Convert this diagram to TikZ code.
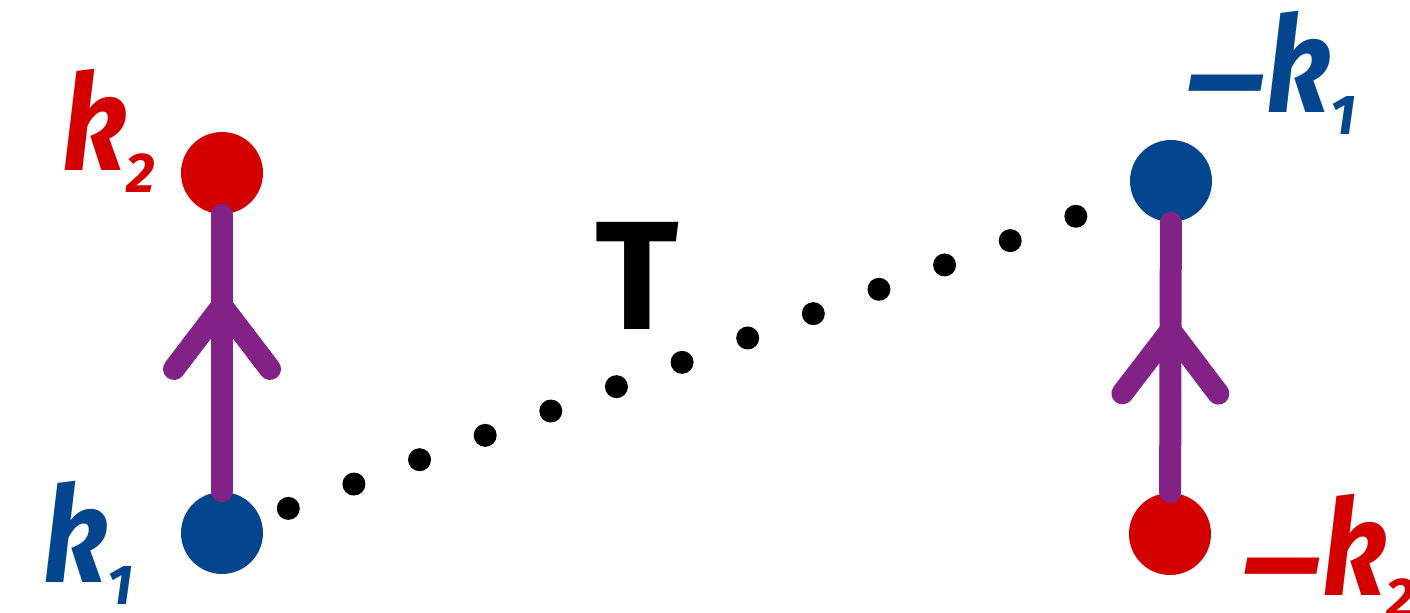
\documentclass[tikz,border=0pt]{standalone}
\usepackage{fontspec}
\setsansfont{Fira Sans}
\usetikzlibrary{decorations.markings}
\definecolor{kred}{RGB}{212,0,0}
\definecolor{kblue}{RGB}{4,70,142}
\definecolor{kpurple}{RGB}{130,34,135}
\newcommand{\kk}{\scalebox{0.85}[1]{k}}
\newcommand{\ksub}[1]{\raisebox{-0.22cm}{\fontsize{16}{16}\selectfont #1}}
\newcommand{\kminus}{\raisebox{-0.15cm}{\scalebox{1.3}[1]{\char"2212}}\kern-0.03cm}
\begin{document}
\begin{tikzpicture}[line cap=round, line join=round,
  dot/.style={circle, fill, inner sep=0pt, minimum size=0.82cm},
  lbl/.style={font=\fontsize{38}{38}\selectfont\sffamily\bfseries\itshape, anchor=base west, inner sep=0pt},
  stem/.style={kpurple, line width=0.22cm, postaction={decorate, decoration={markings,
    mark=at position #1 with {\draw[kpurple, line width=0.22cm] (-0.63cm,0.48cm) -- (0,0) -- (-0.63cm,-0.48cm);}}}},
  dotrow/.style={line width=0.23cm, dash pattern=on 0pt off 0.70cm, dash phase=0.41cm}]
  \useasboundingbox (0,0) rectangle (14.10,6.13);
  % momenta
  \node[dot, kred] (q2) at (2.22,4.40) {};
  \node[dot, kblue] (q1) at (2.22,0.80) {};
  \node[dot, kblue] (mq1) at (11.71,4.32) {};
  \node[dot, kred] (mq2) at (11.70,0.79) {};
  % propagators
  \draw[stem=0.67] (q1) -- (q2);
  \draw[stem=0.60] (mq2) -- (mq1);
  \draw[dotrow] (q1) -- (mq1);
  % labels
  \node[lbl, kred] (lk2) at (0.62,4.42) {\kk\ksub{2}};
  \node[lbl, kblue] (lk1) at (0.43,0.30) {\kk\ksub{1}};
  \node[lbl, kblue] (lmk1) at (11.80,5.00) {\kminus\kk\ksub{1}};
  \node[lbl, kred] (lmk2) at (12.36,0.17) {\kminus\kk\ksub{2}};
  \node[font=\fontsize{44}{44}\selectfont\sffamily\bfseries, anchor=base, inner sep=0pt] (tlab) at (6.37,2.83) {T};
\end{tikzpicture}
\end{document}
